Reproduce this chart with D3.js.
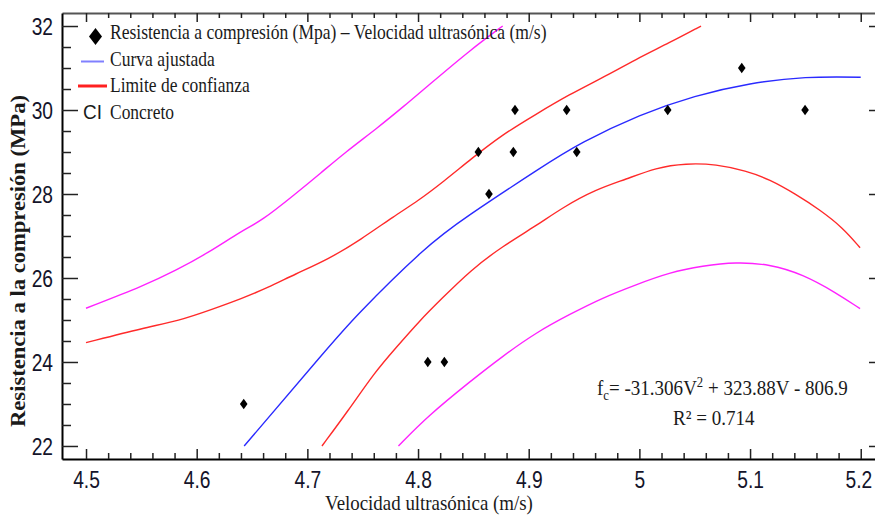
<!DOCTYPE html>
<html><head><meta charset="utf-8">
<script src="https://cdn.jsdelivr.net/npm/d3@7/dist/d3.min.js"></script>
<style>body{margin:0;background:#fff}svg{display:block}</style>
</head><body>
<svg id="chart" width="875" height="516"></svg>
<script>
// ---- data ----
const xTickValues = [4.5, 4.6, 4.7, 4.8, 4.9, 5, 5.1, 5.2];
const xTickLabels = ["4.5", "4.6", "4.7", "4.8", "4.9", "5", "5.1", "5.2"];
const yTickValues = [22, 24, 26, 28, 30, 32];
const yTickLabels = ["22", "24", "26", "28", "30", "32"];

const velocidad   = [4.6425, 4.8088, 4.8238, 4.8545, 4.8641, 4.8876, 4.8861, 4.9343, 4.9434, 5.0256, 5.0925, 5.1497];
const resistencia = [23, 24, 24, 29, 28, 30, 29, 30, 29, 30, 31, 30];

const ajusteV = [4.6429, 4.7096, 4.7486, 4.8027, 4.8477, 4.9066, 4.95, 5.0, 5.05, 5.1, 5.15, 5.2];
const ajusteF = [22.0, 24.06, 25.21, 26.60, 27.52, 28.55, 29.24, 29.86, 30.32, 30.62, 30.77, 30.78];

const confSupV = [4.5, 4.5535, 4.5835, 4.6135, 4.6405, 4.6646, 4.6886, 4.7186, 4.7486, 4.7787, 4.7997, 4.8237, 4.8477, 4.8765, 4.9066, 4.9367, 4.9669, 4.997, 5.0271, 5.0557];
const confSupF = [24.46, 24.82, 24.98, 25.25, 25.51, 25.77, 26.09, 26.44, 26.92, 27.48, 27.83, 28.31, 28.83, 29.42, 29.90, 30.37, 30.77, 31.21, 31.60, 32.0];

const confInfV = [4.7132, 4.7366, 4.7607, 4.7787, 4.8027, 4.8207, 4.8477, 4.8765, 4.9066, 4.9307, 4.9608, 4.988, 5.0151, 5.0422, 5.0693, 5.0964, 5.1175, 5.1416, 5.1627, 5.1837, 5.1994];
const confInfF = [22.0, 22.83, 23.75, 24.30, 25.02, 25.49, 26.19, 26.76, 27.24, 27.68, 28.11, 28.35, 28.63, 28.73, 28.71, 28.55, 28.35, 27.99, 27.63, 27.20, 26.72];

const predSupV = [4.5, 4.5535, 4.5805, 4.6105, 4.6405, 4.6586, 4.6886, 4.7126, 4.7336, 4.7637, 4.7877, 4.8087, 4.8477, 4.8765];
const predSupF = [25.28, 25.83, 26.17, 26.60, 27.12, 27.36, 27.99, 28.51, 28.98, 29.58, 30.10, 30.57, 31.44, 32.0];

const predInfV = [4.7823, 4.8087, 4.8477, 4.8765, 4.9066, 4.9367, 4.9669, 4.997, 5.0271, 5.0572, 5.0873, 5.1175, 5.1476, 5.1777, 5.1994];
const predInfF = [22.0, 22.71, 23.55, 24.14, 24.70, 25.13, 25.53, 25.84, 26.13, 26.29, 26.38, 26.33, 26.09, 25.65, 25.27];

const legendLabels = ["Resistencia a compresión (Mpa) – Velocidad ultrasónica (m/s)", "Curva ajustada", "Limite de confianza", "Concreto"];

// ---- layout ----
const svg = d3.select("#chart");
const L = 62, R = 877, T = 13, B = 459;
const x = d3.scaleLinear().domain([4.4783, 5.2147]).range([L, R]);
const y = d3.scaleLinear().domain([21.69, 32.31]).range([B, T]);

const serif = "'Liberation Serif','Times New Roman',serif";
const sans = "'Liberation Sans',Arial,sans-serif";

function fitText(parent, px, py, width, anchor, build) {
  const g = parent.append("g");
  const t = g.append("text").attr("text-anchor", anchor);
  build(t);
  const w = t.node().getBBox().width;
  g.attr("transform", `translate(${px},${py}) scale(${width / w},1)`);
  return g;
}

// minor tick values
const xMinor = d3.range(4.52, 5.2, 0.02).filter(v => Math.abs(Math.round(v * 10) - v * 10) > 1e-6);
const yMinor = d3.range(22.5, 32, 0.5).filter(v => Math.abs(Math.round(v / 2) * 2 - v) > 1e-6);

function styleAxis(g, color, width) {
  g.select(".domain").attr("stroke", color).attr("stroke-width", width);
  g.selectAll(".tick line").attr("stroke", "#222").attr("stroke-width", 1.5);
}
function styleMinor(g) {
  g.select(".domain").remove();
  g.selectAll(".tick line").attr("stroke", "#222").attr("stroke-width", 1.5);
}

// top axis
const gTop = svg.append("g").attr("transform", `translate(0,${T})`)
  .call(d3.axisTop(x).tickValues(xTickValues).tickSize(-9).tickSizeOuter(0).tickFormat(""));
styleAxis(gTop, "#555", 2);
svg.append("g").attr("transform", `translate(0,${T})`)
  .call(d3.axisTop(x).tickValues(xMinor).tickSize(-5).tickSizeOuter(0).tickFormat(""))
  .call(styleMinor);

// right axis
svg.append("g").attr("transform", `translate(${R},0)`)
  .call(d3.axisRight(y).tickValues(yTickValues).tickSize(-8).tickSizeOuter(0).tickFormat(""))
  .call(g => styleAxis(g, "#333", 2));

// bottom axis
const gBottom = svg.append("g").attr("transform", `translate(0,${B})`)
  .call(d3.axisBottom(x).tickValues(xTickValues).tickSize(-10).tickSizeOuter(0).tickPadding(12)
    .tickFormat((d, i) => xTickLabels[i]));
styleAxis(gBottom, "#000", 2);
svg.append("g").attr("transform", `translate(0,${B})`)
  .call(d3.axisBottom(x).tickValues(xMinor).tickSize(-6).tickSizeOuter(0).tickFormat(""))
  .call(styleMinor);

// left axis
const gLeft = svg.append("g").attr("transform", `translate(${L},0)`)
  .call(d3.axisLeft(y).tickValues(yTickValues).tickSize(-16).tickSizeOuter(0).tickPadding(9)
    .tickFormat((d, i) => yTickLabels[i]));
styleAxis(gLeft, "#000", 2);
svg.append("g").attr("transform", `translate(${L},0)`)
  .call(d3.axisLeft(y).tickValues(yMinor).tickSize(-9).tickSizeOuter(0).tickFormat(""))
  .call(styleMinor);

// tick label styling (narrow, via horizontal scale)
const narrow = 0.8;
gBottom.selectAll(".tick text")
  .attr("font-family", sans).attr("font-size", 24).attr("fill", "#14142a")
  .attr("transform", `scale(${narrow},1)`);
gBottom.selectAll(".tick text").filter((d, i) => i === xTickValues.length - 1).attr("x", -3);
gLeft.selectAll(".tick text")
  .attr("font-family", sans).attr("font-size", 24).attr("fill", "#14142a")
  .attr("dy", "0.36em")
  .attr("x", -9 / narrow)
  .attr("transform", `scale(${narrow},1)`);

// ---- curves ----
const smooth = d3.line().x(d => x(d[0])).y(d => y(d[1])).curve(d3.curveBasis);
const natural = d3.line().x(d => x(d[0])).y(d => y(d[1])).curve(d3.curveNatural);
function drawCurve(vs, fs, color, gen) {
  svg.append("path").datum(d3.zip(vs, fs))
    .attr("d", gen).attr("fill", "none").attr("stroke", color).attr("stroke-width", 1.4);
}
drawCurve(predSupV, predSupF, "#ff22ff", smooth);
drawCurve(predInfV, predInfF, "#ff22ff", smooth);
drawCurve(confSupV, confSupF, "#ff2a2a", smooth);
drawCurve(confInfV, confInfF, "#ff2a2a", smooth);
drawCurve(ajusteV, ajusteF, "#2a2aff", natural);

// diamond symbol
function diamond(hw, hh) {
  return { draw(ctx) { ctx.moveTo(0, -hh); ctx.lineTo(hw, 0); ctx.lineTo(0, hh); ctx.lineTo(-hw, 0); ctx.closePath(); } };
}
svg.append("g").selectAll("path").data(d3.zip(velocidad, resistencia)).join("path")
  .attr("transform", d => `translate(${x(d[0])},${y(d[1])})`)
  .attr("d", d3.symbol(diamond(3.8, 5.2))())
  .attr("fill", "#000");

// ---- legend ----
const leg = svg.append("g");
leg.append("path").attr("transform", "translate(95.5,36.5)").attr("d", d3.symbol(diamond(6.5, 8.5))()).attr("fill", "#000");
leg.append("line").attr("x1", 81).attr("x2", 104).attr("y1", 61.5).attr("y2", 61.5).attr("stroke", "#8080ff").attr("stroke-width", 2);
leg.append("line").attr("x1", 78).attr("x2", 107).attr("y1", 86).attr("y2", 86).attr("stroke", "#ff2020").attr("stroke-width", 3);
const legRows = [[39, 437], [66, 105], [91.5, 140], [119, 64]];
legendLabels.forEach((lab, i) => {
  fitText(leg, 110, legRows[i][0], legRows[i][1], "start",
    t => t.attr("font-family", serif).attr("font-size", 20).attr("fill", "#1a1a1a").text(lab));
});
fitText(leg, 83, 119, 19, "start",
  t => t.attr("font-family", sans).attr("font-size", 20).attr("fill", "#1a1a1a").text("CI"));

// ---- axis titles ----
fitText(svg, 429, 510, 208, "middle",
  t => t.attr("font-family", serif).attr("font-size", 21).attr("fill", "#1a1a1a").text("Velocidad ultrasónica (m/s)"));
const yt = svg.append("g").attr("transform", "translate(25,261) rotate(-90)");
fitText(yt, 0, 0, 332, "middle",
  t => t.attr("font-family", serif).attr("font-size", 20).attr("font-weight", "bold").attr("fill", "#1a1a1a").text("Resistencia a la compresión (MPa)"));

// ---- equation ----
fitText(svg, 597, 395, 251, "start", t => {
  t.attr("font-family", serif).attr("font-size", 21).attr("fill", "#1a1a1a");
  t.append("tspan").text("f");
  t.append("tspan").attr("font-size", 14).attr("dy", 5).text("c");
  t.append("tspan").attr("dy", -5).text("= -31.306V");
  t.append("tspan").attr("font-size", 14).attr("dy", -8).text("2");
  t.append("tspan").attr("dy", 8).text(" + 323.88V - 806.9");
});
fitText(svg, 673, 425, 82, "start",
  t => t.attr("font-family", serif).attr("font-size", 21).attr("fill", "#1a1a1a").text("R² = 0.714"));
</script>
</body></html>
